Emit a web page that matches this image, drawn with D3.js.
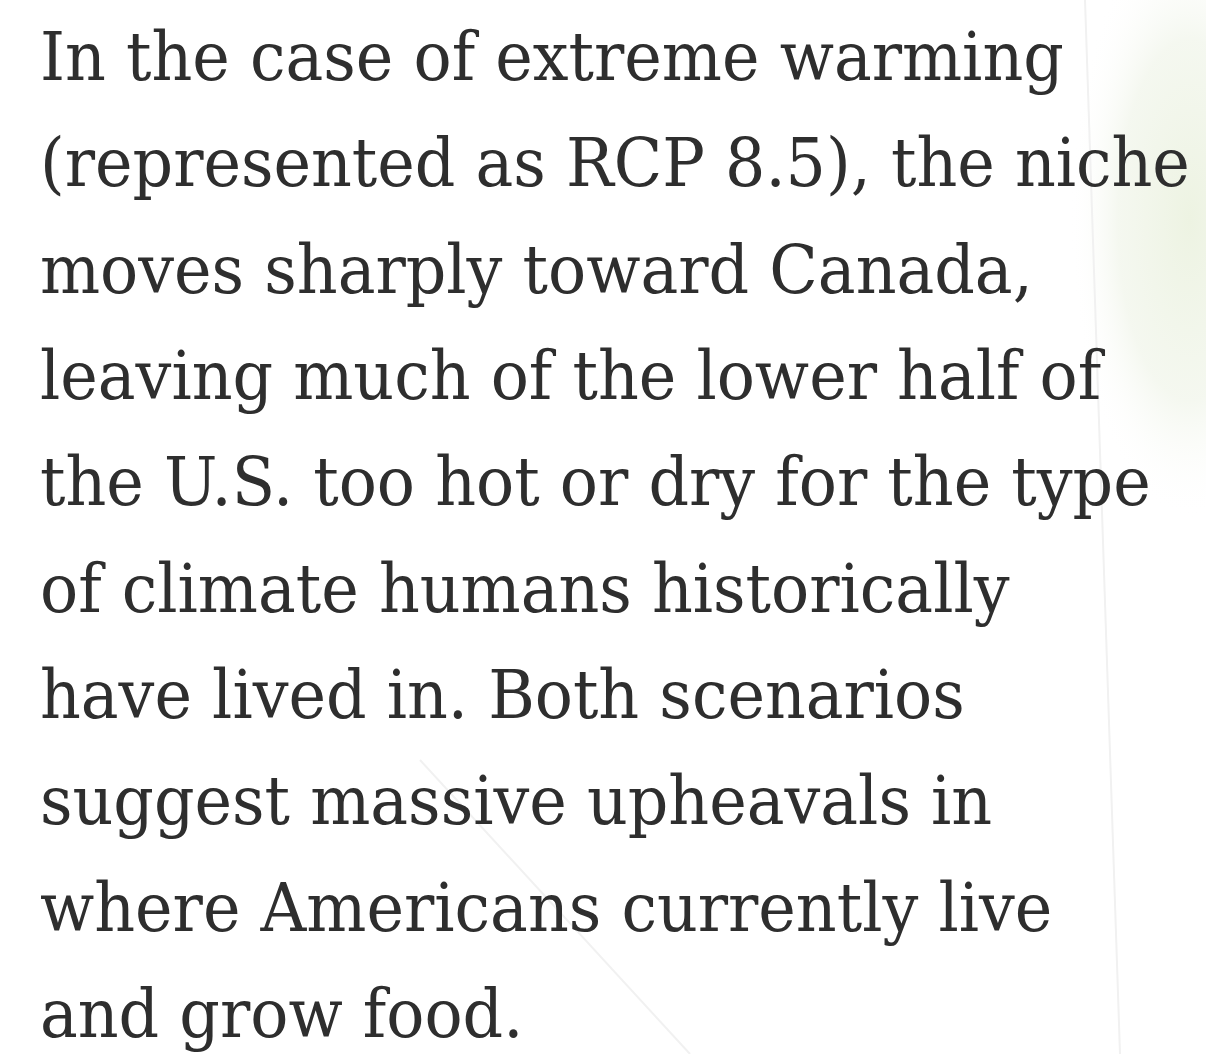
<!DOCTYPE html>
<html>
<head>
<meta charset="utf-8">
<script src="https://cdn.jsdelivr.net/npm/d3@7"></script>
<style>
  html, body { margin: 0; padding: 0; background: #fff; }
  svg { display: block; }
</style>
</head>
<body>
<div id="chart"></div>
<script>
// Paragraph lines, top to bottom
const lines = [
  "In the case of extreme warming",
  "(represented as RCP 8.5), the niche",
  "moves sharply toward Canada,",
  "leaving much of the lower half of",
  "the U.S. too hot or dry for the type",
  "of climate humans historically",
  "have lived in. Both scenarios",
  "suggest massive upheavals in",
  "where Americans currently live",
  "and grow food."
];
const lineIndex = d3.range(lines.length);

const width = 1206, height = 1054;
const margin = { top: 80, bottom: 1037, left: 40, right: 16 };

const svg = d3.select("#chart").append("svg")
  .attr("width", width)
  .attr("height", height);

// faint green map wash behind the text, soft edges
const defs = svg.append("defs");
const wash = defs.append("radialGradient").attr("id", "wash");
wash.append("stop").attr("offset", 0).attr("stop-color", "#edf3e2").attr("stop-opacity", 1);
wash.append("stop").attr("offset", 0.6).attr("stop-color", "#f2f6ec").attr("stop-opacity", 0.8);
wash.append("stop").attr("offset", 1).attr("stop-color", "#ffffff").attr("stop-opacity", 0);

svg.append("rect").attr("width", width).attr("height", height).attr("fill", "#fff");
svg.append("ellipse")
  .attr("cx", 1190).attr("cy", 220).attr("rx", 120).attr("ry", 300)
  .attr("fill", "url(#wash)");

// faint lines of the map underneath
const faint = svg.append("g").attr("stroke", "#f1f1f1").attr("stroke-width", 2).attr("fill", "none");
faint.append("path").attr("d", "M1085,0 L1120,1054");
faint.append("path").attr("d", "M420,760 L690,1054");

// line baselines
const y = d3.scaleLinear()
  .domain([0, lines.length - 1])
  .range([margin.top, margin.bottom]);

const textG = svg.append("g").attr("transform", `translate(${margin.left},0)`);

const label = textG.selectAll("text")
  .data(lineIndex)
  .join("text")
    .attr("x", 0)
    .attr("y", i => y(i))
    .attr("font-family", "'DejaVu Serif', Georgia, serif")
    .attr("font-size", 68)
    .attr("fill", "#2e2e2e")
    .text(i => lines[i]);

// squeeze horizontally so the widest line fits the column
const widest = d3.max(label.nodes(), n => n.getComputedTextLength());
const sx = (width - margin.left - margin.right) / widest;
textG.attr("transform", `translate(${margin.left},0) scale(${sx},1)`);
</script>
</body>
</html>
